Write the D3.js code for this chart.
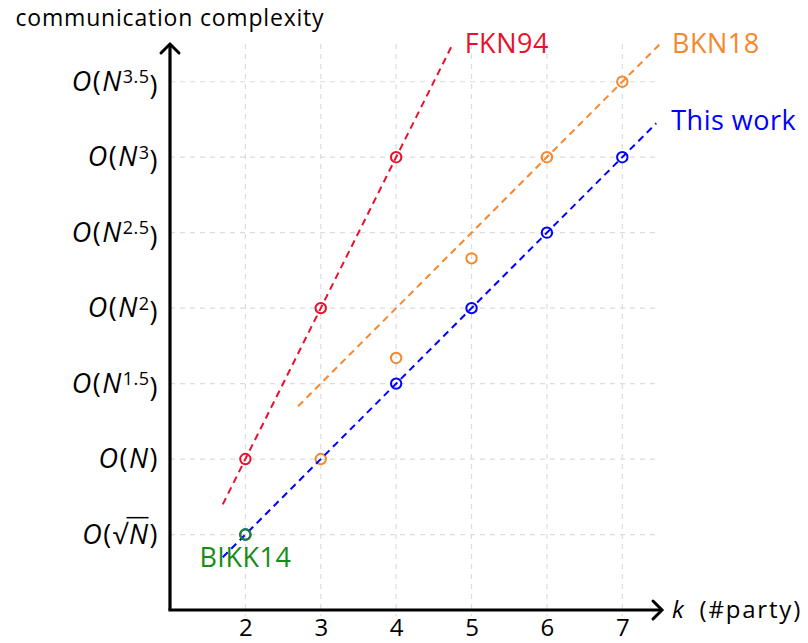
<!DOCTYPE html>
<html>
<head>
<meta charset="utf-8">
<script src="https://cdn.jsdelivr.net/npm/d3@7"></script>
<style>
  body { margin: 0; background: #fff; }
  svg text { font-family: "Open Sans", Lato, sans-serif; }
</style>
</head>
<body>
<div id="vis-container"></div>
<script>
// x ticks (number of parties) and y ticks (exponent of N)
var xTicks = [2, 3, 4, 5, 6, 7];
var yTicks = [0.5, 1, 1.5, 2, 2.5, 3, 3.5];
var yLabels = ["√", "", "1.5", "2", "2.5", "3", "3.5"];

// measured points
var fkn94 = [[2, 1], [3, 2], [4, 3]];
var bkn18 = [[3, 1], [4, 1.67], [5, 2.33], [6, 3], [7, 3.5]];
var thisWork = [[2, 0.5], [4, 1.5], [5, 2], [6, 2.5], [7, 3]];
var bikk14 = [[2, 0.5]];

// dashed trend lines (end points in data units)
var fknLine = [[1.7, 0.7], [4.75, 3.75]];
var bknLine = [[2.7, 1.35], [7.5, 3.75]];
var thisLine = [[1.7, 0.35], [7.45, 3.225]];

var colors = { red: "#e8112d", orange: "#f5882c", blue: "#0000ff", green: "#168c16" };

var width = 808, height = 643;
var x0 = 170, y0 = 610;

var xScale = d3.scaleLinear().domain([1, 7.5]).range([x0, 660]);
var yScale = d3.scaleLinear().domain([0, 3.75]).range([y0, 44]);

var svg = d3.select("#vis-container")
  .append("svg")
    .attr("width", width)
    .attr("height", height);

// arrow head
svg.append("defs").append("marker")
    .attr("id", "arrow")
    .attr("markerUnits", "userSpaceOnUse")
    .attr("viewBox", "-12 -12 16 24")
    .attr("markerWidth", 16)
    .attr("markerHeight", 24)
    .attr("refX", 0)
    .attr("refY", 0)
    .attr("orient", "auto")
  .append("path")
    .attr("d", "M-9,-9 Q-2,-2 0,0 Q-2,2 -9,9")
    .attr("fill", "none")
    .attr("stroke", "#000")
    .attr("stroke-width", 3)
    .attr("stroke-linecap", "round");

// grid
var grid = svg.append("g").attr("class", "grid");
grid.selectAll(".vgrid")
  .data(xTicks)
  .enter().append("line")
    .attr("x1", function(d) { return xScale(d); })
    .attr("x2", function(d) { return xScale(d); })
    .attr("y1", yScale(3.75))
    .attr("y2", yScale(0) + 6)
    .attr("stroke", "#dcdcdc")
    .attr("stroke-width", 1.2)
    .attr("stroke-dasharray", "5,5");
grid.selectAll(".hgrid")
  .data(yTicks)
  .enter().append("line")
    .attr("x1", xScale(1))
    .attr("x2", xScale(7.45))
    .attr("y1", function(d) { return yScale(d); })
    .attr("y2", function(d) { return yScale(d); })
    .attr("stroke", "#dcdcdc")
    .attr("stroke-width", 1.2)
    .attr("stroke-dasharray", "5,5");

// x axis labels
var xAxis = d3.axisBottom(xScale).tickValues(xTicks).tickFormat(d3.format("d"))
    .tickSize(0).tickPadding(9);
var gx = svg.append("g")
    .attr("transform", "translate(0," + y0 + ")")
    .call(xAxis);
gx.select(".domain").remove();
gx.selectAll("text")
    .attr("fill", "#000")
    .style("font-size", "24px");

// y axis labels (O(N^e))
var yAxis = d3.axisLeft(yScale).tickValues(yTicks).tickSize(0).tickPadding(11).tickFormat("");
var gy = svg.append("g")
    .attr("transform", "translate(" + x0 + ",0)")
    .call(yAxis);
gy.select(".domain").remove();
gy.selectAll(".tick text")
    .attr("fill", "#000")
    .style("font-size", "27px")
    .style("letter-spacing", "1.5px")
    .each(function(d, i) {
      var t = d3.select(this);
      var lab = yLabels[i];
      t.append("tspan").style("font-style", "italic").text("O");
      t.append("tspan").text("(");
      if (lab === "√") {
        t.append("tspan").text("√");
        t.append("tspan").style("font-style", "italic").text("N");
        t.append("tspan").text(")");
      } else if (lab === "") {
        t.append("tspan").style("font-style", "italic").text("N");
        t.append("tspan").text(")");
      } else {
        t.append("tspan").style("font-style", "italic").text("N");
        t.append("tspan").attr("dy", "-0.42em").style("font-size", "18px")
          .style("letter-spacing", "0.5px").text(lab);
        t.append("tspan").attr("dy", "0.42em").text(")");
      }
    });

// vinculum over N for the square root label
gy.selectAll(".tick text")
  .filter(function(d, i) { return yLabels[i] === "√"; })
  .each(function() {
    var root = this.getExtentOfChar(2);
    var n = this.getExtentOfChar(3);
    var top = root.y + 3;
    d3.select(this.parentNode).append("line")
      .attr("x1", root.x + root.width - 2.5)
      .attr("x2", n.x + n.width - 1)
      .attr("y1", top)
      .attr("y2", top)
      .attr("stroke", "#000")
      .attr("stroke-width", 1.5);
  });

// axes with arrows
svg.append("line")
    .attr("x1", x0).attr("y1", y0)
    .attr("x2", x0).attr("y2", yScale(3.75))
    .attr("stroke", "#000").attr("stroke-width", 3.2)
    .attr("marker-end", "url(#arrow)");
svg.append("line")
    .attr("x1", x0 - 1.6).attr("y1", y0)
    .attr("x2", xScale(7.5) + 2).attr("y2", y0)
    .attr("stroke", "#000").attr("stroke-width", 3.2)
    .attr("marker-end", "url(#arrow)");

// axis titles
svg.append("text")
    .attr("x", x0)
    .attr("y", 26)
    .attr("text-anchor", "middle")
    .style("font-size", "23px")
    .style("letter-spacing", "0.8px")
    .text("communication complexity");
var xt = svg.append("text")
    .attr("x", xScale(7.5) + 12)
    .attr("y", y0 + 8)
    .style("font-size", "24px")
    .style("letter-spacing", "1.8px");
xt.append("tspan").style("font-style", "italic").text("k");
xt.append("tspan").attr("dx", 6).text(" (#party)");

var line = d3.line()
    .x(function(d) { return xScale(d[0]); })
    .y(function(d) { return yScale(d[1]); });

function drawSeries(lineData, points, color) {
  if (lineData) {
    svg.append("path")
      .datum(lineData)
      .attr("d", line)
      .attr("fill", "none")
      .attr("stroke", color)
      .attr("stroke-width", 2)
      .attr("stroke-dasharray", "7,5");
  }
  svg.selectAll(null)
    .data(points)
    .enter().append("circle")
      .attr("cx", function(d) { return xScale(d[0]); })
      .attr("cy", function(d) { return yScale(d[1]); })
      .attr("r", 5.2)
      .attr("fill", "none")
      .attr("stroke", color)
      .attr("stroke-width", 2);
}

drawSeries(fknLine, fkn94, colors.red);
drawSeries(bknLine, bkn18, colors.orange);
drawSeries(thisLine, thisWork, colors.blue);
drawSeries(null, bikk14, colors.green);

// series labels
function label(txt, px, py, dx, dy, color, anchor) {
  svg.append("text")
    .attr("x", xScale(px) + dx)
    .attr("y", yScale(py) + dy)
    .attr("dy", "0.35em")
    .attr("text-anchor", anchor || "start")
    .attr("fill", color)
    .style("font-size", "27px")
    .style("letter-spacing", "0.5px")
    .text(txt);
}
label("FKN94", fknLine[1][0], fknLine[1][1], 12, 0, colors.red);
label("BKN18", bknLine[1][0], bknLine[1][1], 12, 0, colors.orange);
label("This work", thisLine[1][0], thisLine[1][1], 15, -3, colors.blue);
label("BIKK14", bikk14[0][0], bikk14[0][1], 0, 23, colors.green, "middle");
</script>
</body>
</html>
